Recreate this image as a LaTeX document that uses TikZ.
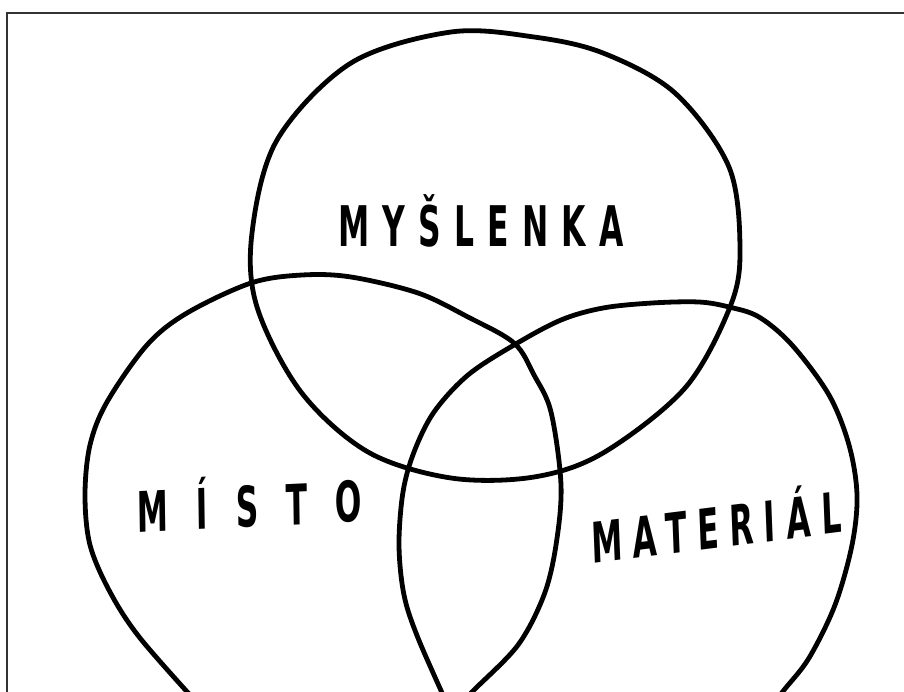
\documentclass[tikz,border=0pt]{standalone}
\usepackage{fontspec}
\newfontfamily\handA[LetterSpace=42]{DejaVu Sans Bold}
\newfontfamily\handB[LetterSpace=89]{DejaVu Sans Bold}
\newfontfamily\handC[LetterSpace=34]{DejaVu Sans Bold}
\begin{document}
\begin{tikzpicture}[x=1pt,y=-1pt,
  frame/.style={draw=black!80,line width=1.8pt},
  blob/.style={draw=black,line width=4.8pt,line cap=round,line join=round},
  word/.style={inner sep=0pt,anchor=base,xscale=0.56}]
\useasboundingbox (0,0) rectangle (904,691);
\fill[white] (0,0) rectangle (904,691);
\draw[frame] (7,700) -- (7,13) -- (910,13);
\begin{scope}
\clip (0,0) rectangle (904,691);
% top circle: MYSLENKA
\draw[blob] plot[smooth cycle,tension=0.55] coordinates {
 (451,32) (534,37) (603,53) (675,93) (729,167) (740,250) (730,307)
 (685,388) (603,453) (534,477) (451,478) (368,452) (301,392) (257,307)
 (252,233) (277,140) (351,63)};
% left shape: MISTO
\draw[blob] plot[smooth,tension=0.55] coordinates {
 (200,706) (140,638) (110,592) (90,545) (85,495) (90,445) (107,402)
 (147,345) (187,313) (251,283) (302,275) (351,277) (418,293) (468,317)
 (514,343) (534,375) (551,412) (561,485) (556,545) (544,595) (518,645)
 (474,690) (459,706)};
% right shape: MATERIAL
\draw[blob] plot[smooth,tension=0.55] coordinates {
 (448,706) (418,638) (404,595) (399,545) (403,492) (414,452) (434,412)
 (468,375) (514,345) (561,320) (603,308) (652,303) (699,302) (729,307)
 (759,317) (792,345) (829,395) (849,445) (857,495) (852,545) (835,605)
 (809,658) (784,690) (772,706)};
\end{scope}
\node[word] (myslenka) at (481,246) {\fontsize{56}{64}\handA MYŠLENKA};
\node[word,rotate=1.5] (misto) at (250,527) {\fontsize{56}{64}\handB MÍSTO};
\node[word,rotate=4] (material) at (717,548) {\fontsize{56}{64}\handC MATERIÁL};
\end{tikzpicture}
\end{document}
